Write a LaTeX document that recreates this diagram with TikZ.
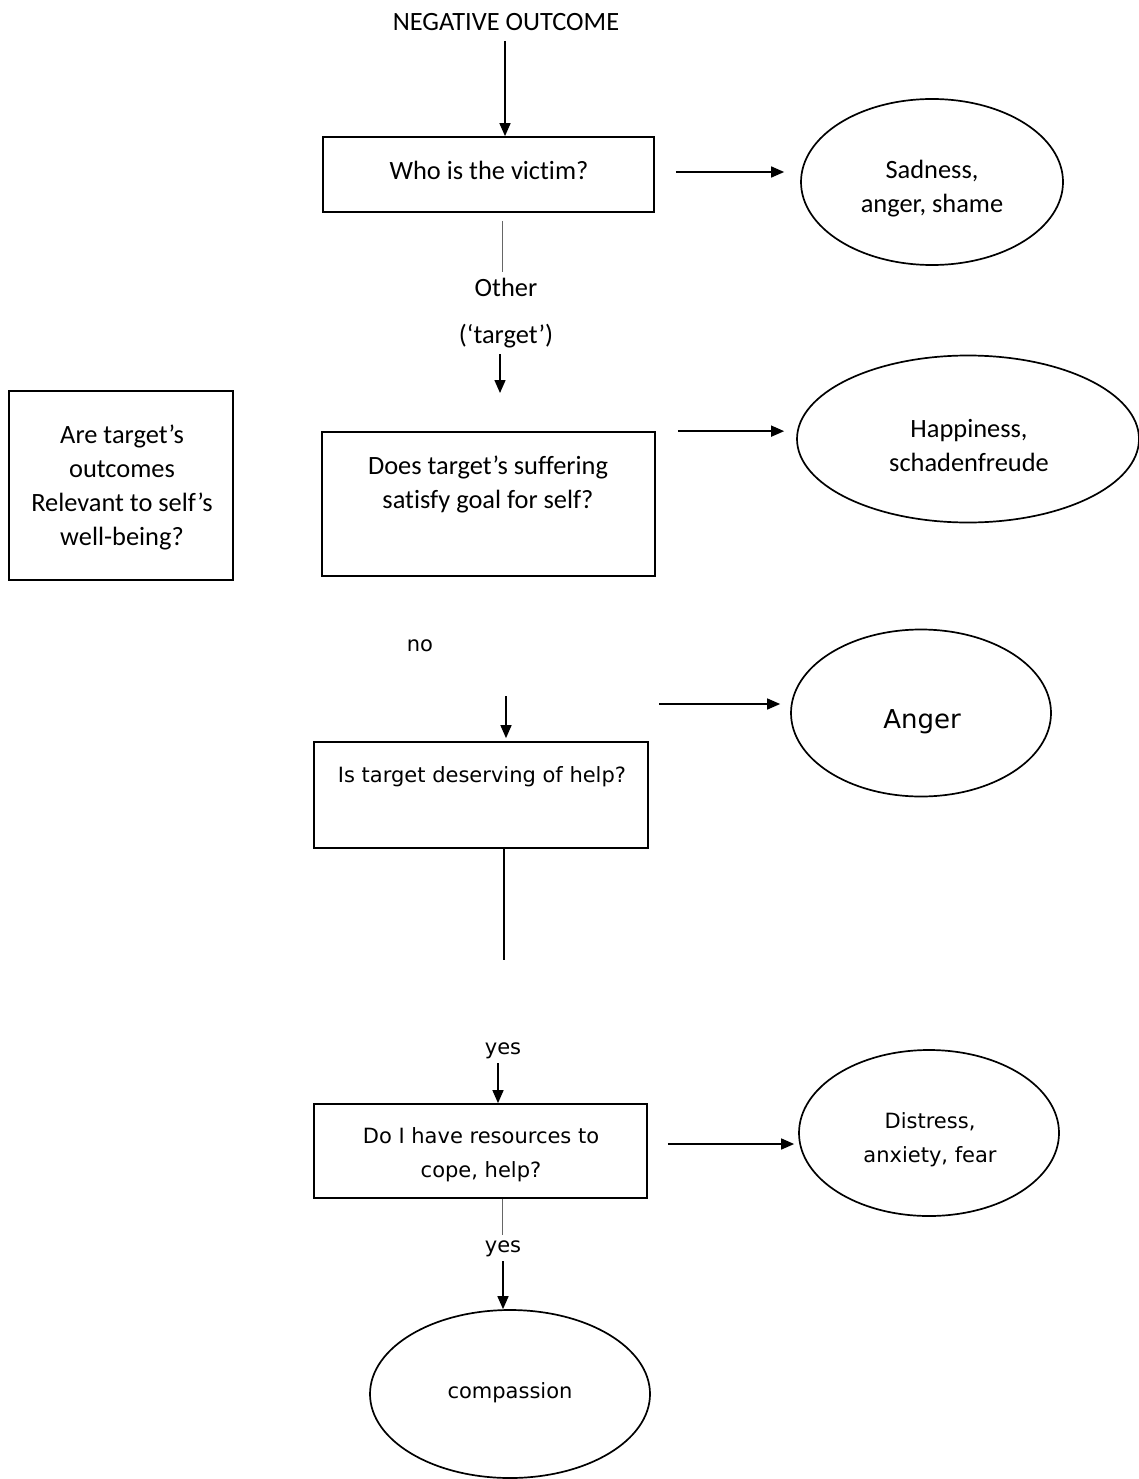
\documentclass[tikz,border=0pt]{standalone}
\usepackage{fontspec}
\setmainfont{Carlito}[Ligatures={NoCommon}]
\newfontfamily\vfont{DejaVu Sans}
\usetikzlibrary{arrows.meta,shapes.geometric}
\begin{document}
\begin{tikzpicture}[x=1pt,y=-1pt,
  box/.style={draw,line width=1.7pt,inner sep=0pt},
  oval/.style={draw,ellipse,line width=1.7pt,inner sep=0pt},
  cal/.style={font=\fontsize{26.4}{34}\selectfont,align=center,inner sep=0pt},
  ver/.style={font=\vfont\fontsize{21}{34}\selectfont,align=center,inner sep=0pt},
  arr/.style={line width=1.5pt,-{Triangle[length=13pt,width=11pt]}},
  conn/.style={line width=1.5pt},
  faint/.style={line width=1pt,black!60}]
\useasboundingbox (0,0) rectangle (1139,1479);

% question boxes
\node[box,minimum width=331pt,minimum height=75pt] (q1) at (488.5,174.5) {};
\node[box,minimum width=224pt,minimum height=189pt] (rel) at (121,485.5) {};
\node[box,minimum width=333pt,minimum height=144pt] (q2) at (488.5,504) {};
\node[box,minimum width=334pt,minimum height=106pt] (q3) at (481,795) {};
\node[box,minimum width=333pt,minimum height=94pt] (q4) at (480.5,1151) {};

% emotion ovals
\node[oval,minimum width=262pt,minimum height=166pt] (e1) at (932,182) {};
\node[oval,minimum width=342pt,minimum height=167pt] (e2) at (968,439) {};
\node[oval,minimum width=260pt,minimum height=167pt] (e3) at (921,713) {};
\node[oval,minimum width=260pt,minimum height=166pt] (e4) at (929,1133) {};
\node[oval,minimum width=280pt,minimum height=168pt] (e5) at (510,1394) {};

% texts
\node[cal] (neg) at (506,22) {NEGATIVE OUTCOME};
\node[cal] (t1) at (489,170) {Who is the victim?};
\node[cal] (te1) at (932,189) {Sadness,\\anger, shame};
\node[cal] (other) at (506,287) {Other};
\node[cal] (target) at (506,336) {(‘target’)};
\node[cal] (trel) at (122,487) {Are target’s\\outcomes\\Relevant to self’s\\well-being?};
\node[cal] (t2) at (488,484) {Does target’s suffering\\satisfy goal for self?};
\node[cal] (te2) at (969,446) {Happiness,\\schadenfreude};
\node[ver] (no) at (420,646) {no};
\node[ver] (t3) at (482,777) {Is target deserving of help?};
\node[ver,font=\vfont\fontsize{26}{34}\selectfont] (te3) at (922,722) {Anger};
\node[ver] (yes1) at (503,1051) {yes};
\node[ver] (t4) at (481,1155) {Do I have resources to\\cope, help?};
\node[ver] (te4) at (930,1140) {Distress,\\anxiety, fear};
\node[ver] (yes2) at (503,1249) {yes};
\node[ver] (te5) at (510,1393) {compassion};

% free ends of connectors
\coordinate (a2end) at (500,393);
\coordinate (a3start) at (506,696);
\coordinate (a4start) at (659,704);
\coordinate (a5end) at (504,960);

% connectors
\draw[arr] ([yshift=-10pt]neg.south -| 505,0) -- (505,0 |- q1.north);
\draw[arr,shorten <=21pt,shorten >=16pt] ([yshift=2.5pt]q1.east) -- ([yshift=2.5pt]q1.east -| e1.west);
\draw[faint] ([yshift=-8pt]q1.south -| 502,0) -- ([yshift=6pt]other.north -| 502,0);
\draw[arr] ([yshift=-6pt]target.south -| a2end) -- (a2end);
\draw[arr,shorten <=22pt,shorten >=12pt] (q2.north east) -- (q2.north east -| e2.west);
\draw[arr,shorten >=3pt] (a3start) -- (a3start |- q3.north);
\draw[arr,shorten >=10pt] (a4start) -- (a4start -| e3.west);
\draw[conn] (q3.south -| a5end) -- (a5end);
\draw[arr] ([yshift=-4pt]yes1.south -| 498,0) -- (498,0 |- q4.north);
\draw[arr,shorten <=20pt,shorten >=4pt] ([yshift=7pt]q4.east) -- ([yshift=7pt]q4.east -| e4.west);
\draw[faint] (q4.south -| 502,0) -- ([yshift=6pt]yes2.north -| 502,0);
\draw[arr] ([yshift=-4pt]yes2.south -| 503,0) -- (503,0 |- e5.north);
\end{tikzpicture}
\end{document}
